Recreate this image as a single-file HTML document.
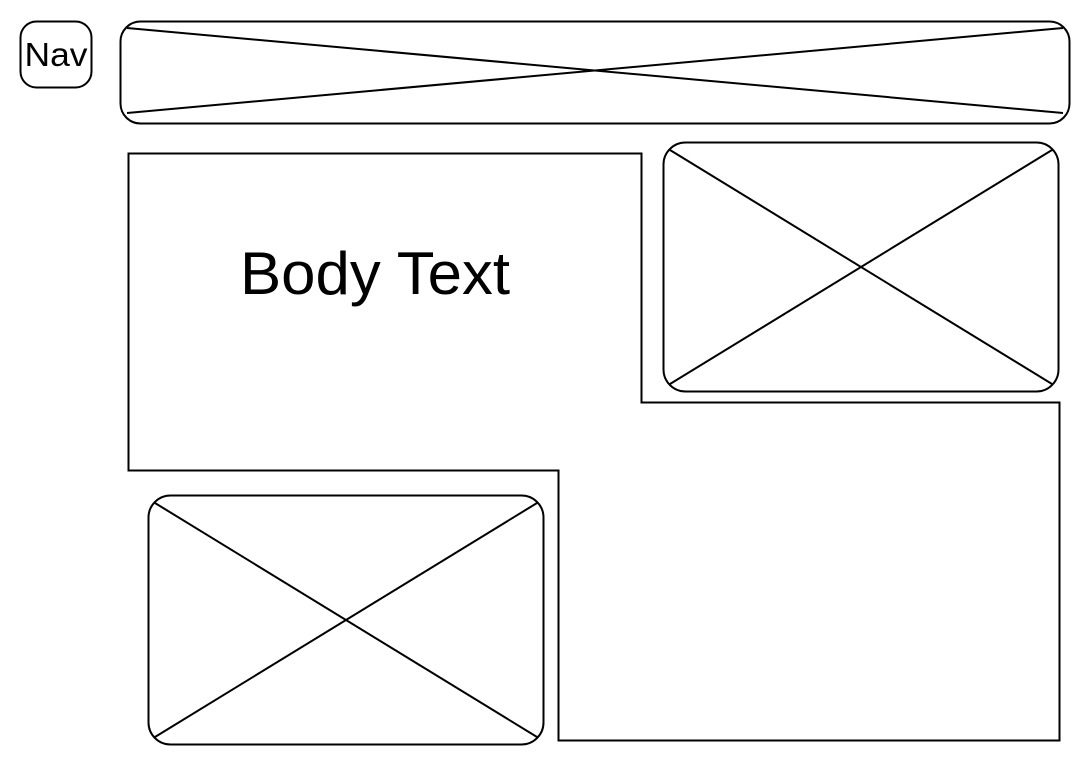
<!DOCTYPE html>
<html>
<head>
<meta charset="utf-8">
<style>
  html,body{margin:0;padding:0;background:#fff;}
  svg{display:block;}
  text{font-family:"Liberation Sans","DejaVu Sans",sans-serif;fill:#000;}
</style>
</head>
<body>
<svg width="1080" height="768" viewBox="0 0 1080 768">
  <g>
    <rect x="20.5" y="21.5" width="71" height="66" rx="16" fill="#fff" stroke="#000" stroke-width="2"/>
    <text x="56" y="66" font-size="33" text-anchor="middle" textLength="63" lengthAdjust="spacingAndGlyphs">Nav</text>
  </g>
  <g>
    <rect x="120.5" y="21.5" width="949" height="102" rx="20" fill="#fff" stroke="#000" stroke-width="2"/>
    <line x1="127" y1="28" x2="1063" y2="113" stroke="#000" stroke-width="2"/>
    <line x1="127" y1="113" x2="1063" y2="28" stroke="#000" stroke-width="2"/>
  </g>
  <g>
    <polygon points="128.5,153.5 641.5,153.5 641.5,402.5 1059.5,402.5 1059.5,740.5 558.5,740.5 558.5,470.5 128.5,470.5" fill="none" stroke="#000" stroke-width="2"/>
    <text x="375" y="294" font-size="60" text-anchor="middle" textLength="270" lengthAdjust="spacingAndGlyphs">Body Text</text>
  </g>
  <g>
    <rect x="663.5" y="142.5" width="395" height="249" rx="22" fill="#fff" stroke="#000" stroke-width="2"/>
    <line x1="670" y1="150" x2="1052" y2="384" stroke="#000" stroke-width="2"/>
    <line x1="670" y1="384" x2="1052" y2="150" stroke="#000" stroke-width="2"/>
  </g>
  <g>
    <rect x="148.5" y="495.5" width="395" height="249" rx="22" fill="#fff" stroke="#000" stroke-width="2"/>
    <line x1="155" y1="503" x2="537" y2="737" stroke="#000" stroke-width="2"/>
    <line x1="155" y1="737" x2="537" y2="503" stroke="#000" stroke-width="2"/>
  </g>
</svg>
</body>
</html>
